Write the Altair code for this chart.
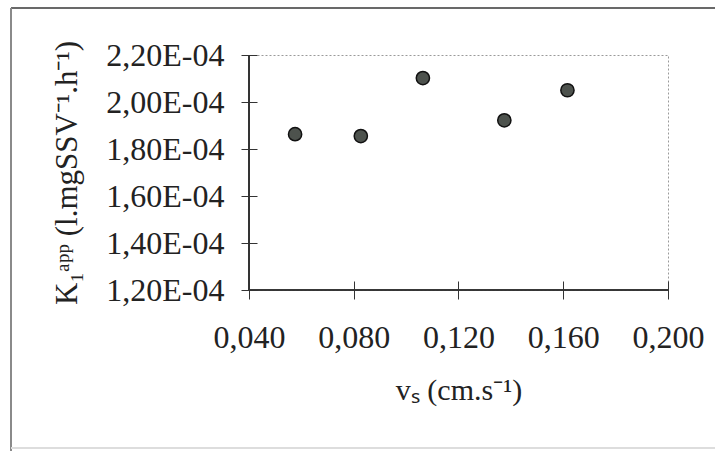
import altair as alt
import pandas as pd

# data
vs = [0.0576, 0.0827, 0.1064, 0.1375, 0.1616]
k1app = [1.863e-4, 1.855e-4, 2.102e-4, 1.922e-4, 2.050e-4]
x_ticks = [0.04, 0.08, 0.12, 0.16, 0.20]
y_ticks = [1.2e-4, 1.4e-4, 1.6e-4, 1.8e-4, 2.0e-4, 2.2e-4]

df = pd.DataFrame({"vs": vs, "k": k1app})

W, H = 419, 235
FONT = "Liberation Serif"

x_axis = alt.Axis(
    values=x_ticks,
    labelExpr="replace(format(datum.value, '.3f'), '.', ',')",
    domain=False, grid=False, labelFlush=False, labelOverlap=False,
    tickSize=18, offset=-9, tickColor="#333", tickWidth=1,
    labelFont=FONT, labelFontSize=32, labelColor="#222", labelPadding=23,
    title="vₛ (cm.s⁻¹)", titleFont=FONT, titleFontSize=30, titleFontWeight="normal",
    titleColor="#222", titleX=W / 2, titleY=109, titleBaseline="middle",
)
y_axis = alt.Axis(
    values=y_ticks,
    labelExpr="replace(format(datum.value / 1e-4, '.2f'), '.', ',') + 'E-04'",
    domain=False, grid=False, labelFlush=False, labelOverlap=False,
    tickSize=16, offset=-8, tickColor="#333", tickWidth=1,
    labelFont=FONT, labelFontSize=32, labelColor="#222", labelPadding=17,
    title="K₁ᵃᵖᵖ (l.mgSSV⁻¹.h⁻¹)", titleFont=FONT, titleFontSize=31, titleFontWeight="normal",
    titleColor="#222", titleX=-190, titleY=H / 2, titleBaseline="middle", titleAngle=270,
)

points = alt.Chart(df).mark_point(
    filled=True, shape="circle", size=175, fill="#4d524d", stroke="#111",
    strokeWidth=1.5, opacity=1,
).encode(
    x=alt.X("vs:Q", scale=alt.Scale(domain=[0.04, 0.2], nice=False, zero=False), axis=x_axis),
    y=alt.Y("k:Q", scale=alt.Scale(domain=[1.2e-4, 2.2e-4], nice=False, zero=False), axis=y_axis),
)

left_line = alt.Chart(df).mark_rule(color="#333", strokeWidth=1.2).encode(
    x=alt.value(0), y=alt.value(0), y2=alt.value(H))
bottom_line = alt.Chart(df).mark_rule(color="#333", strokeWidth=1.2).encode(
    x=alt.value(0), x2=alt.value(W), y=alt.value(H))

# outer frame of the scanned figure
frame_top = alt.Chart(df).mark_rule(color="#6a6a6a", strokeWidth=1.5).encode(
    x=alt.value(-238), x2=alt.value(480), y=alt.value(-47))
frame_left = alt.Chart(df).mark_rule(color="#8a8a8a", strokeWidth=1.5).encode(
    x=alt.value(-238), y=alt.value(-47), y2=alt.value(400))
frame_bottom = alt.Chart(df).mark_rule(color="#dddddd", strokeWidth=1.5).encode(
    x=alt.value(-238), x2=alt.value(480), y=alt.value(393))

chart = alt.layer(
    frame_top, frame_left, frame_bottom, left_line, bottom_line, points
).properties(
    width=W, height=H,
    autosize=alt.AutoSizeParams(type="none"),
    padding={"left": 249, "top": 55, "right": 47, "bottom": 161},
    background="white",
).configure_view(
    stroke="#9a9a9a", strokeDash=[2, 2], strokeWidth=1,
)

chart.save("out.html", embed_options={"renderer": "svg", "actions": False})
